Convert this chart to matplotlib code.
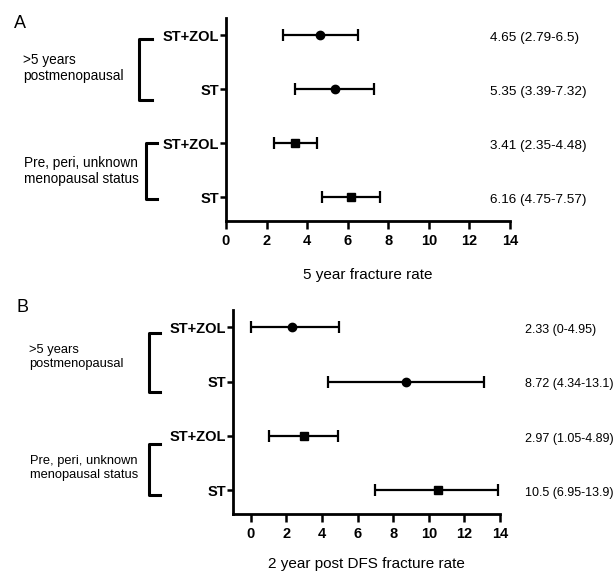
import matplotlib
matplotlib.use("Agg")
import matplotlib.pyplot as plt
from matplotlib.transforms import blended_transform_factory

plt.rcParams['font.family'] = ['Liberation Sans', 'DejaVu Sans']

# rows top to bottom
arms = ["ST+ZOL", "ST", "ST+ZOL", "ST"]
rows = [4, 3, 2, 1]
markers = ["o", "o", "s", "s"]
groups = [">5 years\npostmenopausal", "Pre, peri, unknown\nmenopausal status"]

rate_a = [4.65, 5.35, 3.41, 6.16]
low_a = [2.79, 3.39, 2.35, 4.75]
high_a = [6.5, 7.32, 4.48, 7.57]
text_a = ["4.65 (2.79-6.5)", "5.35 (3.39-7.32)", "3.41 (2.35-4.48)", "6.16 (4.75-7.57)"]

rate_b = [2.33, 8.72, 2.97, 10.5]
low_b = [0, 4.34, 1.05, 6.95]
high_b = [4.95, 13.1, 4.89, 13.9]
text_b = ["2.33 (0-4.95)", "8.72 (4.34-13.1)", "2.97 (1.05-4.89)", "10.5 (6.95-13.9)"]

xticks = [0, 2, 4, 6, 8, 10, 12, 14]

W, H = 616, 574
fig = plt.figure(figsize=(W / 100, H / 100), dpi=100)


def px(x, y):
    return x / W, 1 - y / H


def panel(rect, rate, low, high, texts, xlim, xlabel, labelpad, letter,
          letter_xy, text_x, text_fs, brackets, group_pos, group_fs):
    ax = fig.add_axes(rect)
    for r, lo, hi, y, m in zip(rate, low, high, rows, markers):
        ax.errorbar(r, y, xerr=[[r - lo], [hi - r]], fmt=m, color="black",
                    ms=6, elinewidth=1.6, capsize=4, capthick=1.6)
    ax.set_xlim(*xlim)
    ax.set_ylim(0.56, 4.32)
    ax.set_xticks(xticks)
    ax.set_yticks(rows)
    ax.set_yticklabels(arms)
    for s in ["top", "right"]:
        ax.spines[s].set_visible(False)
    for s in ["left", "bottom"]:
        ax.spines[s].set_linewidth(2)
    ax.spines["bottom"].set_bounds(xlim[0], 14)
    ax.tick_params(axis="x", length=6, width=1.8, labelsize=10.5, pad=3)
    ax.tick_params(axis="y", length=4, width=1.8, labelsize=10.5, pad=1)
    for lab in ax.get_xticklabels() + ax.get_yticklabels():
        lab.set_fontweight("bold")
    ax.set_xlabel(xlabel, fontsize=11, labelpad=labelpad)

    tr = blended_transform_factory(fig.transFigure, ax.transData)
    for t, y in zip(texts, rows):
        ax.text(text_x / W, y - 0.05, t, transform=tr, fontsize=text_fs,
                ha="left", va="center")
    for (bx0, bx1, y0, y1), (gx, gy), g in zip(brackets, group_pos, groups):
        ax.plot([bx1 / W, bx0 / W, bx0 / W, bx1 / W], [y0, y0, y1, y1],
                transform=tr, color="black", lw=2.2, clip_on=False)
        ax.text(gx / W, gy, g, transform=tr, fontsize=group_fs, ha="left",
                va="center", linespacing=1.2)
    fig.text(*px(*letter_xy), letter, fontsize=13, ha="left", va="center")
    return ax


panel([226 / W, 1 - 221 / H, 284 / W, 203 / H], rate_a, low_a, high_a, text_a,
      (0, 14), "5 year fracture rate", 15, "A", (14, 24), 490, 9.7,
      [(139, 152, 3.94, 2.80), (146, 157, 2.01, 0.96)],
      [(23, 3.39), (24, 1.48)], 9.8)

panel([233 / W, 1 - 514 / H, 267 / W, 204 / H], rate_b, low_b, high_b, text_b,
      (-1, 14), "2 year post DFS fracture rate", 12, "B", (16, 307), 525, 9.0,
      [(149, 160, 3.90, 2.80), (149, 160, 1.85, 0.91)],
      [(29, 3.46), (30, 1.41)], 9.3)

fig.savefig("out.png", dpi=100)
